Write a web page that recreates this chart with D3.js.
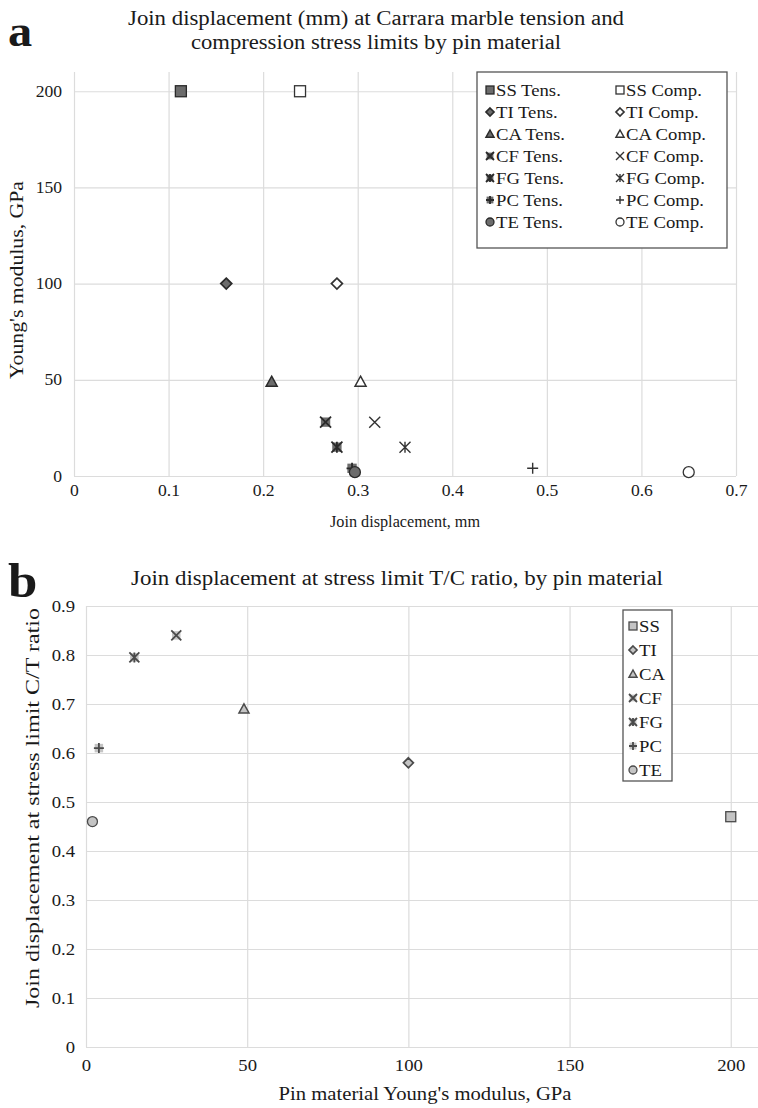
<!DOCTYPE html>
<html>
<head>
<script src="https://d3js.org/d3.v7.min.js"></script>
<style>
  body { margin: 0; background: #fff; }
  text { font-family: "Liberation Serif", "Times New Roman", serif; fill: #1a1a1a; }
</style>
</head>
<body>
<svg id="fig" width="758" height="1108"></svg>
<script>
// ---- data ----
const materials = ["SS", "TI", "CA", "CF", "FG", "PC", "TE"];
const modulus   = [200, 100, 49, 28, 15, 4, 2];                         // GPa
const tensDisp  = [0.113, 0.161, 0.209, 0.266, 0.278, 0.294, 0.297];   // mm at tension limit
const compDisp  = [0.239, 0.278, 0.303, 0.318, 0.350, 0.485, 0.650];   // mm at compression limit
const ratioTC   = [0.47, 0.58, 0.69, 0.84, 0.795, 0.61, 0.46];
const markerTypes = ["square", "diamond", "triangle", "x", "star", "plus", "circle"];

const xTicksA = [0, 0.1, 0.2, 0.3, 0.4, 0.5, 0.6, 0.7];
const yTicksA = [0, 50, 100, 150, 200];
const xTicksB = [0, 50, 100, 150, 200];
const yTicksB = [0, 0.1, 0.2, 0.3, 0.4, 0.5, 0.6, 0.7, 0.8, 0.9];

const SX = 1.1; // the source picture is a little stretched sideways

const svg = d3.select("#fig");
svg.append("rect").attr("width", 758).attr("height", 1108).attr("fill", "#fff");

// draw one marker into a group centred at 0,0
function marker(g, type, r, fill, stroke, filled) {
  const sw = 1.3;
  if (type === "square") {
    g.append("rect").attr("x", -r).attr("y", -r).attr("width", 2 * r).attr("height", 2 * r)
      .attr("fill", fill).attr("stroke", stroke).attr("stroke-width", sw);
  } else if (type === "diamond") {
    g.append("path").attr("d", `M0,${-r}L${r},0L0,${r}L${-r},0Z`)
      .attr("fill", fill).attr("stroke", stroke).attr("stroke-width", sw + 0.4);
  } else if (type === "triangle") {
    g.append("path").attr("d", `M0,${-r}L${r},${r * 0.8}L${-r},${r * 0.8}Z`)
      .attr("fill", fill).attr("stroke", stroke).attr("stroke-width", sw + 0.2);
  } else if (type === "circle") {
    g.append("circle").attr("r", r).attr("fill", fill).attr("stroke", stroke).attr("stroke-width", sw);
  } else {
    if (filled) {
      const q = r * 0.85;
      g.append("rect").attr("x", -q).attr("y", -q).attr("width", 2 * q).attr("height", 2 * q).attr("fill", fill);
    }
    let d = "";
    if (type === "x" || type === "star") d += `M${-r},${-r}L${r},${r}M${r},${-r}L${-r},${r}`;
    if (type === "star") d += `M0,${-r}L0,${r}`;
    if (type === "plus") d += `M${-r},0L${r},0M0,${-r}L0,${r}`;
    g.append("path").attr("d", d).attr("fill", "none").attr("stroke", stroke)
      .attr("stroke-width", filled ? 1.8 : 1.4);
  }
}

function styleAxis(g, side, size) {
  g.select(".domain").remove();
  g.selectAll(".tick line").attr("stroke", "#dcdcdc").attr("stroke-width", 1.2);
  g.selectAll(".tick text")
    .attr("font-size", size)
    .attr("fill", "#222")
    .attr("transform", `scale(${SX},1)`);
  if (side === "left") {
    g.selectAll(".tick text").attr("x", function () { return +d3.select(this).attr("x") / SX; });
  }
}

function stretchedText(x, y, str, size, anchor) {
  return svg.append("text")
    .attr("transform", `translate(${x},${y}) scale(${SX},1)`)
    .attr("text-anchor", anchor || "start")
    .attr("font-size", size)
    .text(str);
}

// ================= chart a =================
const xA = d3.scaleLinear().domain([0, 0.7]).range([74, 736]);
const yA = d3.scaleLinear().domain([0, 210]).range([476, 72]);

svg.append("g").attr("transform", `translate(0,${yA(0)})`)
  .call(d3.axisBottom(xA).tickValues(xTicksA).tickSize(-(yA(0) - yA(210))).tickPadding(9).tickFormat(d => d))
  .call(g => styleAxis(g, "bottom", 16));
svg.append("g").attr("transform", `translate(${xA(0)},0)`)
  .call(d3.axisLeft(yA).tickValues(yTicksA).tickSize(-(xA(0.7) - xA(0))).tickPadding(12).tickFormat(d => d))
  .call(g => styleAxis(g, "left", 16));

// compression markers, then tension markers on top
materials.forEach((m, i) => {
  const gc = svg.append("g").attr("transform", `translate(${xA(compDisp[i])},${yA(modulus[i])})`);
  marker(gc, markerTypes[i], 5.5, "#fff", "#333", false);
});
materials.forEach((m, i) => {
  const gt = svg.append("g").attr("transform", `translate(${xA(tensDisp[i])},${yA(modulus[i])})`);
  marker(gt, markerTypes[i], 5.5, "#6c6c6c", "#2a2a2a", true);
});

// legend a
svg.append("rect").attr("x", 477).attr("y", 72).attr("width", 250).attr("height", 176)
  .attr("fill", "#fff").attr("stroke", "#555").attr("stroke-width", 1.3);
materials.forEach((m, i) => {
  const ly = 90 + i * 22;
  marker(svg.append("g").attr("transform", `translate(490,${ly})`), markerTypes[i], 4, "#6c6c6c", "#2a2a2a", true);
  stretchedText(496, ly + 6, m + " Tens.", 17);
  marker(svg.append("g").attr("transform", `translate(620,${ly})`), markerTypes[i], 4, "#fff", "#333", false);
  stretchedText(626, ly + 6, m + " Comp.", 17);
});

// titles a
svg.append("text").attr("x", 376).attr("y", 25).attr("text-anchor", "middle").attr("font-size", 20)
  .attr("textLength", 496).attr("lengthAdjust", "spacingAndGlyphs")
  .text("Join displacement (mm) at Carrara marble  tension and");
svg.append("text").attr("x", 376).attr("y", 49).attr("text-anchor", "middle").attr("font-size", 20)
  .attr("textLength", 370).attr("lengthAdjust", "spacingAndGlyphs")
  .text("compression stress limits by pin material");
svg.append("text").attr("x", 8).attr("y", 46).attr("font-size", 44).attr("font-weight", "bold")
  .attr("transform", "translate(8,46) scale(1.1,1) translate(-8,-46)").text("a");

svg.append("text").attr("x", 405).attr("y", 527).attr("text-anchor", "middle").attr("font-size", 17)
  .attr("textLength", 150).attr("lengthAdjust", "spacingAndGlyphs").text("Join displacement, mm");
svg.append("text").attr("transform", "translate(23,280) rotate(-90)").attr("text-anchor", "middle")
  .attr("font-size", 18).attr("textLength", 198).attr("lengthAdjust", "spacingAndGlyphs")
  .text("Young's modulus, GPa");

// ================= chart b =================
const xB = d3.scaleLinear().domain([0, 210]).range([86, 763]);
const yB = d3.scaleLinear().domain([0, 0.9]).range([1047, 606]);

svg.append("g").attr("transform", `translate(0,${yB(0)})`)
  .call(d3.axisBottom(xB).tickValues(xTicksB).tickSize(-(yB(0) - yB(0.9))).tickPadding(12).tickFormat(d => d))
  .call(g => styleAxis(g, "bottom", 17));
svg.append("g").attr("transform", `translate(${xB(0)},0)`)
  .call(d3.axisLeft(yB).tickValues(yTicksB).tickSize(-(xB(210) - xB(0))).tickPadding(11).tickFormat(d => d))
  .call(g => styleAxis(g, "left", 17));

materials.forEach((m, i) => {
  const g = svg.append("g").attr("transform", `translate(${xB(modulus[i])},${yB(ratioTC[i])})`);
  marker(g, markerTypes[i], 5, "#c4c4c4", "#4a4a4a", true);
});

// legend b
svg.append("rect").attr("x", 623).attr("y", 610).attr("width", 49).attr("height", 171)
  .attr("fill", "#fff").attr("stroke", "#555").attr("stroke-width", 1.3);
materials.forEach((m, i) => {
  const ly = 626 + i * 24;
  marker(svg.append("g").attr("transform", `translate(633,${ly})`), markerTypes[i], 4, "#c4c4c4", "#4a4a4a", true);
  stretchedText(639, ly + 6, m, 17);
});

svg.append("text").attr("x", 397).attr("y", 585).attr("text-anchor", "middle").attr("font-size", 20)
  .attr("textLength", 532).attr("lengthAdjust", "spacingAndGlyphs")
  .text("Join displacement at stress limit T/C ratio, by pin material");
svg.append("text").attr("x", 8).attr("y", 597).attr("font-size", 48).attr("font-weight", "bold")
  .attr("transform", "translate(8,597) scale(1.1,1) translate(-8,-597)").text("b");

svg.append("text").attr("x", 425).attr("y", 1100).attr("text-anchor", "middle").attr("font-size", 18)
  .attr("textLength", 293).attr("lengthAdjust", "spacingAndGlyphs").text("Pin material Young's modulus, GPa");
svg.append("text").attr("transform", "translate(39,808) rotate(-90)").attr("text-anchor", "middle")
  .attr("font-size", 18).attr("textLength", 400).attr("lengthAdjust", "spacingAndGlyphs")
  .text("Join displacement at stress limit C/T ratio");
</script>
</body>
</html>
